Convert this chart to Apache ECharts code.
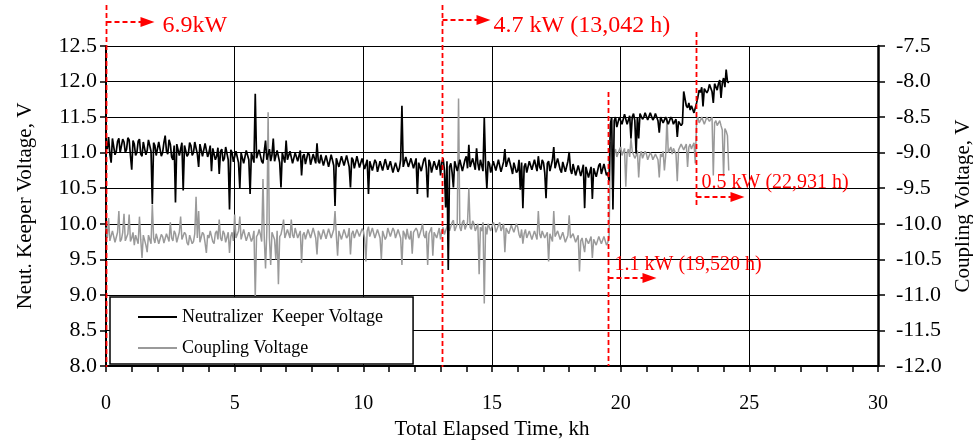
<!DOCTYPE html>
<html>
<head>
<meta charset="utf-8">
<script src="https://cdn.jsdelivr.net/npm/echarts/dist/echarts.min.js"></script>
<style>
  html, body { margin: 0; padding: 0; background: #fff; }
  #chart { width: 973px; height: 440px; }
</style>
</head>
<body>
<div id="chart"></div>
<script>
// --- data: one reading every 0.05 kh from 0 to 24.2 kh ---
const sampleStepKh = 0.05;

// neutralizer keeper voltage, V (left axis) - one row per kh
const keeperVolts = [
  11.15, 11.05, 11.22, 10.98, 10.86, 11.2, 11.18, 10.97, 11.02, 11.16, 11.2, 11.0, 10.98, 11.19, 11.15, 11.0, 11.05, 11.21, 11.18, 10.96,
  10.76, 11.17, 11.12, 10.96, 11.0, 11.16, 11.19, 10.98, 10.95, 11.15, 11.14, 10.97, 11.03, 11.18, 11.2, 11.02, 10.28, 11.14, 11.1, 10.96,
  10.97, 11.15, 11.16, 10.95, 11.0, 11.14, 11.24, 11.02, 10.98, 11.18, 11.12, 10.94, 10.9, 11.1, 10.3, 11.12, 11.1, 10.96, 10.95, 11.14,
  10.47, 11.1, 11.12, 10.95, 10.98, 11.14, 11.1, 10.96, 11.0, 11.15, 11.13, 10.98, 10.8, 11.12, 11.1, 10.95, 10.97, 11.13, 11.12, 10.94,
  11.0, 11.1, 10.74, 11.06, 11.08, 10.9, 10.95, 11.07, 10.7, 11.02, 11.05, 10.88, 10.92, 11.08, 11.1, 10.9, 10.2, 11.04, 11.0, 10.87,
  10.88, 11.02, 11.04, 10.86, 10.5, 11.0, 11.0, 10.85, 10.87, 11.03, 11.05, 10.9, 10.42, 11.0, 10.98, 10.86, 11.83, 10.92, 10.9, 11.04,
  11.06, 10.88, 10.85, 11.02, 11.17, 10.9, 10.92, 11.05, 10.88, 10.97, 11.2, 10.88, 10.9, 11.03, 11.02, 10.86, 10.51, 11.0, 10.98, 10.86,
  11.17, 10.9, 10.88, 11.02, 11.0, 10.85, 10.86, 11.0, 11.02, 10.88, 10.9, 11.03, 10.68, 10.95, 10.98, 10.84, 10.85, 11.0, 10.97, 10.83,
  10.84, 10.98, 11.0, 10.85, 11.13, 10.88, 10.85, 10.97, 10.98, 10.82, 10.8, 10.96, 10.95, 10.8, 10.82, 10.97, 10.96, 10.82, 10.25, 10.92,
  10.93, 10.8, 10.8, 10.95, 10.97, 10.82, 10.83, 10.96, 10.94, 10.8, 10.51, 10.93, 10.9, 10.78, 10.8, 10.95, 10.93, 10.79, 10.78, 10.92,
  10.9, 10.77, 10.75, 10.9, 10.42, 10.88, 10.88, 10.75, 10.74, 10.9, 10.86, 10.73, 10.72, 10.88, 10.88, 10.75, 10.76, 10.91, 10.9, 10.76,
  10.74, 10.88, 10.87, 10.72, 10.7, 10.86, 10.84, 10.73, 10.78, 10.9, 11.66, 10.8, 10.82, 10.94, 10.95, 10.8, 10.78, 10.92, 10.92, 10.78,
  10.8, 10.92, 10.42, 10.86, 10.88, 10.74, 10.76, 10.9, 10.93, 10.78, 10.37, 10.9, 10.85, 10.72, 10.72, 10.88, 10.9, 10.76, 10.75, 10.9,
  10.68, 10.86, 10.92, 10.76, 10.23, 10.88, 9.35, 10.8, 10.85, 10.72, 10.51, 10.88, 10.9, 10.74, 10.72, 10.9, 10.88, 10.74, 10.75, 10.9,
  10.95, 10.78, 11.11, 10.8, 10.78, 10.92, 10.9, 10.76, 11.06, 10.85, 10.75, 10.9, 10.88, 10.74, 11.49, 10.82, 10.5, 10.88, 10.85, 10.72,
  10.74, 10.88, 10.9, 10.75, 10.76, 10.9, 10.88, 10.73, 10.72, 10.87, 11.05, 10.8, 10.8, 10.93, 10.92, 10.78, 10.7, 10.86, 10.86, 10.72,
  10.75, 10.9, 10.48, 10.86, 10.22, 10.8, 10.85, 10.72, 10.72, 10.88, 10.9, 10.76, 10.75, 10.9, 10.88, 10.74, 10.95, 10.8, 10.76, 10.9,
  10.86, 10.72, 10.36, 10.85, 10.88, 10.74, 10.74, 10.9, 11.08, 10.78, 10.8, 10.92, 10.92, 10.76, 10.72, 10.87, 10.87, 10.73, 10.75, 10.88,
  11.01, 10.76, 10.7, 10.84, 10.82, 10.68, 10.66, 10.82, 10.8, 10.67, 10.68, 10.83, 10.22, 10.8, 10.78, 10.65, 10.66, 10.8, 10.35, 10.78,
  10.8, 10.66, 10.68, 10.82, 10.85, 10.7, 10.7, 10.84, 10.82, 10.68, 10.72, 10.6, 11.4, 11.5, 10.2, 11.45, 11.5, 11.36, 11.35, 11.5,
  11.52, 11.4, 11.4, 11.54, 11.55, 11.4, 11.38, 11.52, 11.2, 11.5, 11.55, 11.45, 10.99, 11.5, 11.2, 11.55, 11.57, 11.47, 11.5, 11.56,
  11.55, 11.46, 11.48, 11.56, 11.54, 11.46, 11.49, 11.55, 11.53, 11.45, 11.28, 11.5, 11.5, 11.42, 11.44, 11.5, 11.48, 11.4, 11.42, 11.5,
  11.47, 11.4, 11.4, 11.47, 11.22, 11.44, 11.45, 11.38, 11.41, 11.86, 11.84, 11.66, 11.63, 11.7, 11.6, 11.66, 11.64, 11.56, 11.55, 11.7,
  11.78, 11.88, 11.85, 11.92, 11.65, 11.9, 11.9, 11.84, 11.88, 11.96, 11.94, 11.86, 11.7, 11.97, 11.95, 11.88, 11.97, 12.02, 11.77, 11.98,
  12.05, 11.92, 12.17, 12.0, 11.98
];

// coupling voltage, V (right axis) - one row per kh
const couplingVolts = [
  -10.05, -10.2, -9.92, -10.24, -10.25, -10.1, -10.12, -10.26, -10.28, -10.12, -9.82, -10.25, -10.22, -10.12, -9.86, -10.24, -10.26, -10.14, -9.87, -10.25,
  -10.2, -10.12, -10.3, -10.16, -10.14, -10.28, -9.9, -10.22, -10.48, -10.16, -10.18, -10.3, -10.4, -10.16, -10.15, -10.28, -9.73, -10.2, -10.27, -10.14,
  -10.16, -10.28, -10.3, -10.15, -10.18, -10.27, -10.25, -10.14, -10.12, -10.25, -9.98, -10.2, -10.24, -10.1, -10.14, -10.26, -10.28, -10.12, -9.9, -10.22,
  -10.22, -10.12, -10.15, -10.27, -10.3, -10.16, -10.18, -10.28, -10.25, -10.14, -9.62, -10.2, -9.82, -10.26, -10.24, -10.12, -10.15, -10.27, -10.41, -10.16,
  -10.2, -10.1, -10.12, -10.25, -10.28, -10.13, -10.1, -10.22, -9.94, -10.2, -10.24, -10.1, -10.14, -10.26, -10.26, -10.12, -10.41, -10.18, -10.12, -10.24,
  -9.87, -10.2, -10.22, -10.1, -9.9, -10.22, -10.2, -10.08, -10.1, -10.24, -10.26, -10.12, -10.12, -10.25, -10.2, -10.1, -11.04, -10.18, -10.15, -10.08,
  -10.15, -10.25, -9.37, -10.2, -10.63, -10.1, -8.43, -10.2, -10.58, -10.12, -10.12, -10.22, -10.5, -10.1, -10.85, -10.18, -10.15, -10.06, -9.94, -10.2,
  -10.18, -10.08, -10.1, -10.2, -9.94, -10.16, -10.2, -10.06, -10.08, -10.2, -10.22, -10.1, -10.55, -10.16, -10.12, -10.22, -10.2, -10.08, -10.07, -10.2,
  -10.18, -10.06, -10.08, -10.2, -10.43, -10.1, -10.14, -10.22, -10.22, -10.08, -10.1, -10.21, -10.2, -10.07, -10.07, -10.2, -10.18, -10.08, -9.82, -10.16,
  -10.45, -10.1, -10.12, -10.22, -10.2, -10.08, -10.08, -10.2, -10.17, -10.06, -10.43, -10.14, -10.1, -10.2, -10.2, -10.08, -10.06, -10.18, -10.18, -10.07,
  -10.1, -10.2, -10.53, -10.1, -10.04, -10.18, -10.16, -10.06, -10.08, -10.2, -10.2, -10.08, -10.07, -10.2, -10.5, -10.1, -10.12, -10.22, -10.18, -10.06,
  -10.06, -10.18, -10.16, -10.06, -10.1, -10.2, -10.2, -10.08, -10.1, -10.2, -10.58, -10.1, -10.14, -10.22, -10.07, -10.18, -10.22, -10.1, -10.42, -10.12,
  -10.14, -10.06, -10.1, -10.2, -10.2, -10.08, -10.0, -10.16, -10.2, -10.1, -10.58, -10.14, -10.15, -10.05, -10.45, -10.12, -10.1, -10.2, -10.18, -10.06,
  -10.22, -10.1, -10.05, -10.15, -10.15, -10.04, -9.98, -10.1, -10.08, -9.98, -9.95, -10.1, -10.12, -10.0, -8.24, -10.05, -10.1, -9.98, -9.95, -10.08,
  -10.1, -9.98, -9.5, -10.05, -10.08, -9.96, -10.0, -10.1, -10.12, -10.0, -10.71, -10.05, -10.1, -9.98, -11.12, -10.04, -10.15, -10.0, -10.0, -10.1,
  -10.08, -9.98, -10.02, -10.12, -10.14, -10.02, -9.98, -10.1, -10.12, -10.0, -10.4, -10.06, -10.05, -10.14, -10.14, -10.02, -10.0, -10.12, -10.12, -10.0,
  -10.05, -10.15, -10.2, -10.08, -10.28, -10.14, -10.08, -10.2, -10.2, -10.1, -10.1, -10.22, -10.24, -10.1, -10.12, -10.22, -9.82, -10.14, -10.2, -10.1,
  -10.08, -10.2, -10.22, -10.12, -10.53, -10.14, -10.15, -10.25, -9.82, -10.18, -10.2, -10.1, -10.1, -10.22, -10.24, -10.12, -10.14, -10.26, -10.28, -10.16,
  -9.88, -10.2, -10.22, -10.14, -10.14, -10.26, -10.26, -10.16, -10.67, -10.24, -10.2, -10.3, -10.4, -10.2, -10.18, -10.28, -10.28, -10.18, -10.48, -10.22,
  -10.2, -10.3, -10.3, -10.18, -10.16, -10.28, -10.28, -10.18, -10.2, -10.3, -10.26, -10.2, -8.85, -8.95, -9.65, -9.0, -8.95, -9.06, -9.05, -8.96,
  -8.92, -9.04, -9.02, -8.94, -9.48, -9.0, -8.95, -9.06, -8.8, -8.98, -9.0, -9.08, -9.04, -8.97, -9.35, -9.05, -8.98, -9.08, -9.07, -8.98,
  -9.02, -9.1, -9.08, -9.0, -9.03, -9.1, -9.1, -9.02, -9.04, -9.1, -9.35, -9.02, -9.06, -8.98, -9.25, -9.04, -8.5, -9.0, -8.98, -8.92,
  -9.02, -8.94, -8.95, -9.02, -9.4, -8.96, -8.94, -8.88, -8.9, -8.96, -8.95, -8.88, -9.2, -8.92, -8.88, -8.95, -8.9, -8.86, -9.15, -8.55,
  -8.5, -8.58, -8.55, -8.5, -8.52, -8.6, -8.58, -8.5, -8.5, -8.56, -8.56, -8.5, -9.32, -8.58, -8.55, -8.62, -8.6, -8.55, -8.62, -8.68,
  -9.33, -8.66, -8.7, -8.76, -9.25
];

const hours = keeperVolts.map((_, i) => +(i * sampleStepKh).toFixed(2));

// thruster power steps
const stepHours = [0, 13.042, 19.52, 22.931];
const stepLabels = ['6.9kW', '4.7 kW (13,042 h)', '1.1 kW (19,520 h)', '0.5 kW (22,931 h)'];

const xRange = [0, 30];
const leftRange = [8.0, 12.5];
const rightRange = [-12.0, -7.5];

const seriesNames = ['Neutralizer  Keeper Voltage', 'Coupling Voltage'];

// --- chart ---
const serif = 'Liberation Serif';
const chart = echarts.init(document.getElementById('chart'));

chart.setOption({
  animation: false,
  backgroundColor: '#fff',
  grid: { left: 106, right: 95, top: 46, bottom: 74, outerBoundsMode: 'none', containLabel: false },
  legend: {
    data: seriesNames,
    orient: 'vertical',
    left: 110,
    top: 297,
    padding: [11, 30, 7, 27],
    itemWidth: 39,
    itemHeight: 14,
    itemGap: 13,
    selectedMode: false,
    backgroundColor: '#fff',
    borderColor: '#000',
    borderWidth: 1.5,
    itemStyle: { color: 'transparent', borderColor: 'transparent', borderWidth: 0, opacity: 0 },
    textStyle: { fontFamily: serif, fontSize: 18, color: '#000' }
  },
  xAxis: {
    type: 'value',
    min: xRange[0],
    max: xRange[1],
    interval: 5,
    name: 'Total Elapsed Time, kh',
    nameLocation: 'middle',
    nameGap: 50,
    nameTextStyle: { fontFamily: serif, fontSize: 21, color: '#000' },
    axisLine: { onZero: false, lineStyle: { color: '#000', width: 2 } },
    axisTick: { show: true, length: 6, lineStyle: { color: '#000', width: 1.5 } },
    minorTick: { show: true, splitNumber: 5, length: 6, lineStyle: { color: '#000', width: 1.5 } },
    axisLabel: { fontFamily: serif, fontSize: 20, color: '#000', margin: 28 },
    splitLine: { show: true, lineStyle: { color: '#000', width: 1 } }
  },
  yAxis: [
    {
      type: 'value',
      position: 'left',
      min: leftRange[0],
      max: leftRange[1],
      interval: 0.5,
      name: 'Neut. Keeper Voltage, V',
      nameLocation: 'middle',
      nameGap: 70,
      nameTextStyle: { fontFamily: serif, fontSize: 21, color: '#000' },
      axisLine: { show: true, lineStyle: { color: '#000', width: 2 } },
      axisTick: { show: true, length: 6, lineStyle: { color: '#000', width: 1.5 } },
      axisLabel: { fontFamily: serif, fontSize: 22, color: '#000', margin: 9,
                   formatter: v => v.toFixed(1) },
      splitLine: { show: true, lineStyle: { color: '#000', width: 1 } }
    },
    {
      type: 'value',
      position: 'right',
      min: rightRange[0],
      max: rightRange[1],
      interval: 0.5,
      name: 'Coupling Voltage, V',
      nameLocation: 'middle',
      nameGap: 68,
      nameTextStyle: { fontFamily: serif, fontSize: 21, color: '#000' },
      axisLine: { show: true, lineStyle: { color: '#000', width: 2.5 } },
      axisTick: { show: true, length: 7, lineStyle: { color: '#000', width: 1.5 } },
      axisLabel: { fontFamily: serif, fontSize: 22, color: '#000', margin: 18,
                   formatter: v => v.toFixed(1) },
      splitLine: { show: false }
    }
  ],
  series: [
    {
      name: seriesNames[1],
      type: 'line',
      yAxisIndex: 1,
      symbol: 'none',
      data: hours.map((h, i) => [h, couplingVolts[i]]),
      lineStyle: { color: '#9a9a9a', width: 1.5 },
      itemStyle: { color: '#9a9a9a' },
      z: 2
    },
    {
      name: seriesNames[0],
      type: 'line',
      yAxisIndex: 0,
      symbol: 'none',
      data: hours.map((h, i) => [h, keeperVolts[i]]),
      lineStyle: { color: '#000', width: 1.7 },
      itemStyle: { color: '#000' },
      z: 3
    }
  ]
});

// --- red power-level annotations ---
const red = '#ff0000';
const noteLayout = [
  { top: 5, bottom: 367, arrowY: 22, dx: 56, textY: 26, size: 24 },
  { top: 5, bottom: 367, arrowY: 20, dx: 51, textY: 26, size: 24 },
  { top: 92, bottom: 366, arrowY: 278, dx: 6, textY: 265, size: 20 },
  { top: 32, bottom: 207, arrowY: 197, dx: 5, textY: 183, size: 20 }
];

const notes = [];
stepHours.forEach((h, i) => {
  const x = Math.round(chart.convertToPixel({ xAxisIndex: 0 }, h)) + 0.5;
  const L = noteLayout[i];
  notes.push({
    type: 'line', z: 10, silent: true,
    shape: { x1: x, y1: L.top, x2: x, y2: L.bottom },
    style: { stroke: red, lineWidth: 1.8, lineDash: [5, 3] }
  });
  notes.push({
    type: 'line', z: 10, silent: true,
    shape: { x1: x, y1: L.arrowY, x2: x + 35, y2: L.arrowY },
    style: { stroke: red, lineWidth: 1.8, lineDash: [5, 3] }
  });
  notes.push({
    type: 'polygon', z: 10, silent: true,
    shape: { points: [[x + 34, L.arrowY - 5], [x + 48, L.arrowY], [x + 34, L.arrowY + 5]] },
    style: { fill: red }
  });
  notes.push({
    type: 'text', z: 10, silent: true,
    x: x + L.dx, y: L.textY,
    style: { text: stepLabels[i], fill: red, font: L.size + 'px "' + serif + '"',
             verticalAlign: 'middle' }
  });
});

chart.setOption({ graphic: notes });
</script>
</body>
</html>
